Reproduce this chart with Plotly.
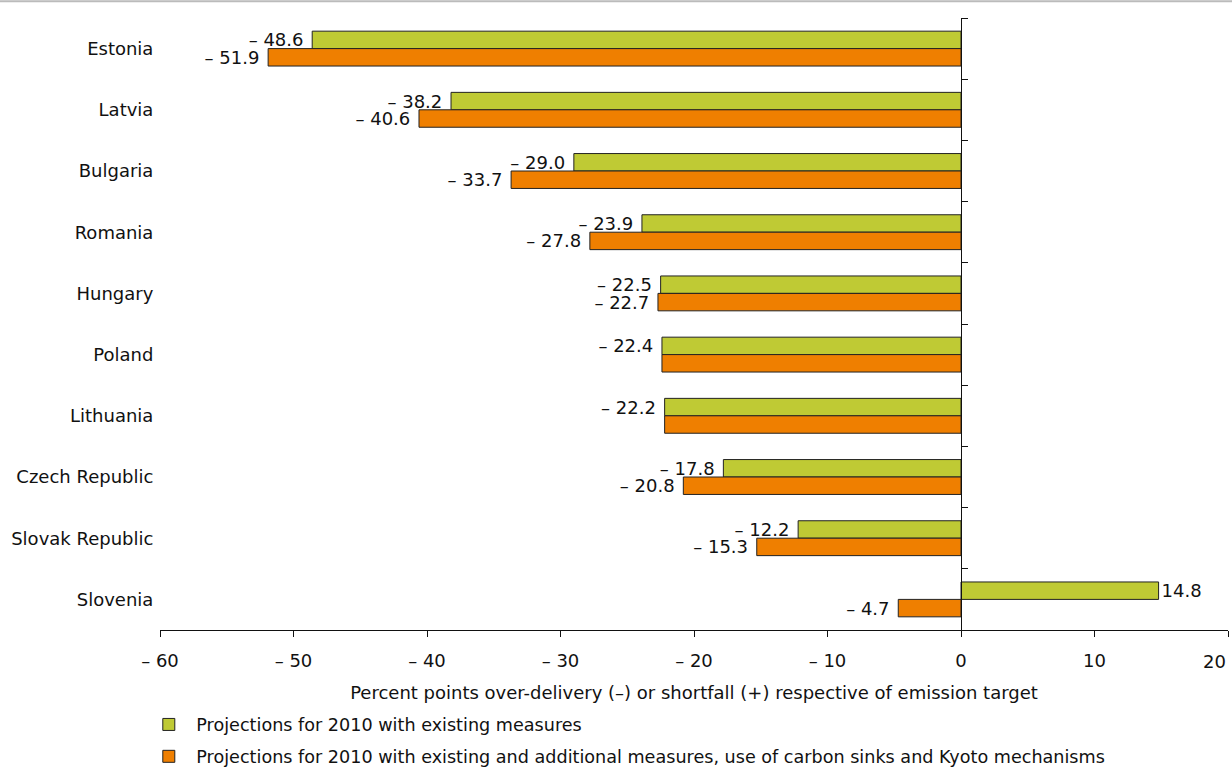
import plotly.graph_objects as go

countries = ["Estonia", "Latvia", "Bulgaria", "Romania", "Hungary", "Poland",
             "Lithuania", "Czech Republic", "Slovak Republic", "Slovenia"]
existing = [-48.6, -38.2, -29.0, -23.9, -22.5, -22.4, -22.2, -17.8, -12.2, 14.8]
additional = [-51.9, -40.6, -33.7, -27.8, -22.7, -22.4, -22.2, -20.8, -15.3, -4.7]
# labels for the orange bars are omitted where they coincide with the green ones
show_additional_label = [True, True, True, True, True, False, False, True, True, True]

x_ticks = [-60, -50, -40, -30, -20, -10, 0, 10, 20]
x_ticktext = ["– 60", "– 50", "– 40", "– 30", "– 20", "– 10", "0", "10", "20"]

name_existing = "Projections for 2010 with existing measures"
name_additional = ("Projections for 2010 with existing and additional measures, "
                   "use of carbon sinks and Kyoto mechanisms")

GREEN = "#BFCA34"
ORANGE = "#EF7F00"
FONT = "DejaVu Sans"
FS = 18


def fmt(v):
    # a trailing no-break space keeps negative labels a little off the bar end
    return ("– %.1f\u00a0" % abs(v)) if v < 0 else ("%.1f" % v)


existing_text = [fmt(v) for v in existing]
additional_text = [fmt(v) if s else "" for v, s in zip(additional, show_additional_label)]

fig = go.Figure()
fig.add_trace(go.Bar(
    y=countries, x=existing, orientation="h", name=name_existing,
    legendgroup="a",
    marker=dict(color=GREEN, line=dict(color="#222222", width=1)),
    text=existing_text, textposition="outside", constraintext="none",
    textfont=dict(family=FONT, size=FS, color="#111111"), cliponaxis=False,
))
fig.add_trace(go.Bar(
    y=countries, x=additional, orientation="h", name=name_additional,
    legendgroup="b",
    marker=dict(color=ORANGE, line=dict(color="#222222", width=1)),
    text=additional_text, textposition="outside", constraintext="none",
    textfont=dict(family=FONT, size=FS, color="#111111"), cliponaxis=False,
))
# invisible helper trace so the zero-line axis carries the same categories
fig.add_trace(go.Scatter(
    y=countries, x=[0] * len(countries), xaxis="x", yaxis="y2", mode="markers",
    marker=dict(opacity=0), showlegend=False, hoverinfo="skip",
))

n = len(countries)
fig.update_layout(
    width=1232, height=767,
    margin=dict(l=160, r=4, t=18, b=137, autoexpand=False),
    paper_bgcolor="white", plot_bgcolor="white",
    font=dict(family=FONT, size=FS, color="#111111"),
    barmode="group", bargap=0.43, bargroupgap=0,
    xaxis=dict(
        range=[-60, 20], tickvals=x_ticks,
        ticktext=x_ticktext[:-1] + [""],
        showgrid=False, zeroline=False, showline=True, linecolor="#111111",
        linewidth=1, ticks="outside", ticklen=6, tickcolor="#111111",
        ticklabelstandoff=8,
        title=dict(text="Percent points over-delivery (–) or shortfall (+) respective of emission target",
                   font=dict(size=FS), standoff=16),
        tickfont=dict(size=FS), automargin=False,
    ),
    yaxis=dict(
        type="category", categoryorder="array", categoryarray=countries,
        range=[n - 0.5, -0.5], showgrid=False, zeroline=False, showline=False,
        ticks="outside", ticklen=2, tickcolor="rgba(0,0,0,0)",
        tickfont=dict(size=FS), automargin=False,
    ),
    yaxis2=dict(
        type="category", categoryorder="array", categoryarray=countries,
        range=[n - 0.5, -0.5], overlaying="y", anchor="free", position=0.75,
        side="right", showline=True, linecolor="#111111", linewidth=1,
        ticks="outside", ticklen=6, tickcolor="#111111", tickson="boundaries",
        showticklabels=False, showgrid=False, zeroline=False, automargin=False,
    ),
    legend=dict(
        orientation="v", x=-0.0175, xanchor="left", y=-0.125, yanchor="top",
        font=dict(size=17.6), traceorder="grouped", tracegroupgap=6,
        itemwidth=45, bgcolor="rgba(0,0,0,0)",
    ),
    shapes=[dict(type="line", xref="paper", yref="paper", x0=-0.16, x1=1.01,
                 y0=1.0275, y1=1.0275, line=dict(color="#BBBBBB", width=2))],
)
# the last tick label ("20") sits flush with the right end of the axis
fig.add_annotation(
    x=x_ticks[-1], xref="x", y=0, yref="paper", yshift=-31,
    text=x_ticktext[-1], showarrow=False, xanchor="right", yanchor="middle",
    font=dict(family=FONT, size=FS, color="#111111"),
)

fig.write_html("out.html", post_script="document.body.style.margin='0px';",
               config={"displayModeBar": False})
